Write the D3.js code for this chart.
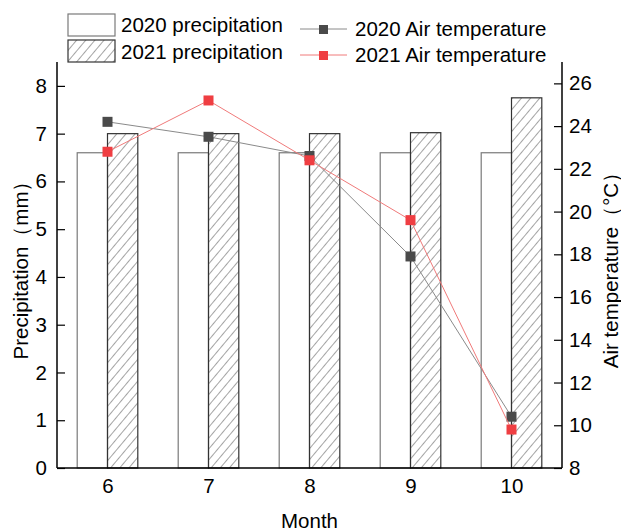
<!doctype html>
<html lang="en">
<head>
<meta charset="utf-8">
<title>Precipitation and air temperature</title>
<script src="https://cdnjs.cloudflare.com/ajax/libs/d3/7.8.5/d3.min.js"></script>
<style>
  body { margin: 0; background: #fff; }
  svg text { font-family: "Liberation Sans", Arial, sans-serif; fill: #000; }
</style>
</head>
<body>
<script>
    // data
    const months = [6, 7, 8, 9, 10];
    const precip2020 = [6.6, 6.6, 6.6, 6.6, 6.6];
    const precip2021 = [7.0, 7.0, 7.0, 7.02, 7.75];
    const temp2020 = [24.2, 23.5, 22.6, 17.9, 10.4];
    const temp2021 = [22.8, 25.2, 22.4, 19.6, 9.8];
    const leftTicks = [0, 1, 2, 3, 4, 5, 6, 7, 8];
    const rightTicks = [8, 10, 12, 14, 16, 18, 20, 22, 24, 26];

    const W = 621, H = 532;
    const plotL = 57, plotR = 562, plotT = 62, plotB = 468;
    const fs = 20.5;

    const svg = d3.select("body").append("svg")
        .attr("width", W).attr("height", H);

    // hatch pattern for 2021 bars
    const defs = svg.append("defs");
    defs.append("pattern")
        .attr("id", "hatch")
        .attr("patternUnits", "userSpaceOnUse")
        .attr("width", 7).attr("height", 7)
        .attr("patternTransform", "rotate(40)")
        .append("line")
        .attr("x1", 0.5).attr("y1", 0).attr("x2", 0.5).attr("y2", 7)
        .attr("stroke", "#666").attr("stroke-width", 0.6);

    const x = d3.scaleLinear().domain([5.5, 10.5]).range([plotL, plotR]);
    const yL = d3.scaleLinear().domain([0, 8.5]).range([plotB, plotT]);
    const yR = d3.scaleLinear().domain([8, 27]).range([plotB, plotT]);
    const barW = x(5.8) - x(5.5);

    // bars
    svg.append("g").selectAll("rect")
        .data(months)
        .join("rect")
        .attr("x", (d) => x(d) - barW)
        .attr("y", (d, i) => yL(precip2020[i]))
        .attr("width", barW)
        .attr("height", (d, i) => plotB - yL(precip2020[i]))
        .attr("fill", "#fff")
        .attr("stroke", "#7a7a7a")
        .attr("stroke-width", 1.2);

    svg.append("g").selectAll("rect")
        .data(months)
        .join("rect")
        .attr("x", (d) => x(d))
        .attr("y", (d, i) => yL(precip2021[i]))
        .attr("width", barW)
        .attr("height", (d, i) => plotB - yL(precip2021[i]))
        .attr("fill", "url(#hatch)")
        .attr("stroke", "#333")
        .attr("stroke-width", 1.2);

    // temperature lines
    const series = [
        { vals: temp2020, line: "#8a8a8a", mark: "#4a4a4a" },
        { vals: temp2021, line: "#f07a7a", mark: "#ef3e42" }
    ];
    series.forEach((s) => {
        const pts = months.map((m, i) => [x(m), yR(s.vals[i])]);
        svg.append("path")
            .attr("d", d3.line()(pts))
            .attr("fill", "none")
            .attr("stroke", s.line)
            .attr("stroke-width", 1);
        svg.append("g").selectAll("rect")
            .data(pts)
            .join("rect")
            .attr("x", (p) => p[0] - 5)
            .attr("y", (p) => p[1] - 5)
            .attr("width", 10).attr("height", 10)
            .attr("fill", s.mark);
    });

    // axes
    const axL = svg.append("g")
        .attr("transform", `translate(${plotL},0)`)
        .call(d3.axisLeft(yL).tickValues(leftTicks).tickSize(-8).tickPadding(10));
    const axR = svg.append("g")
        .attr("transform", `translate(${plotR},0)`)
        .call(d3.axisRight(yR).tickValues(rightTicks).tickSize(-8).tickPadding(7));
    const axB = svg.append("g")
        .attr("transform", `translate(0,${plotB})`)
        .call(d3.axisBottom(x).tickValues(months).tickSize(0).tickPadding(10)
            .tickFormat(d3.format("d")));

    [axL, axR, axB].forEach((a) => {
        a.select(".domain").attr("stroke", "#000").attr("stroke-width", 1.5);
        a.selectAll(".tick line").attr("stroke", "#000").attr("stroke-width", 1.2);
        a.selectAll("text").attr("font-size", fs)
            .attr("font-family", "Liberation Sans, Arial, sans-serif");
    });
    axL.select(".domain").attr("d", `M0,${plotB}V${plotT}`);
    axR.select(".domain").attr("d", `M0,${plotB}V${plotT}`);
    axB.select(".domain").attr("d", `M${plotL},0H${plotR}`);

    // axis titles
    svg.append("text")
        .attr("transform", `translate(28,${(plotT + plotB) / 2}) rotate(-90)`)
        .attr("text-anchor", "middle")
        .attr("font-size", fs)
        .text("Precipitation（mm）");
    svg.append("text")
        .attr("transform", `translate(618,${(plotT + plotB) / 2}) rotate(-90)`)
        .attr("text-anchor", "middle")
        .attr("font-size", fs)
        .text("Air temperature（°C）");
    svg.append("text")
        .attr("x", (plotL + plotR) / 2).attr("y", 528)
        .attr("text-anchor", "middle")
        .attr("font-size", fs)
        .text("Month");

    // legend
    const lg = svg.append("g");
    lg.append("rect").attr("x", 68).attr("y", 14).attr("width", 47).attr("height", 22)
        .attr("fill", "#fff").attr("stroke", "#7a7a7a").attr("stroke-width", 1.2);
    lg.append("rect").attr("x", 68).attr("y", 40).attr("width", 47).attr("height", 22)
        .attr("fill", "url(#hatch)").attr("stroke", "#333").attr("stroke-width", 1.2);
    lg.append("text").attr("x", 121).attr("y", 32).attr("font-size", fs).text("2020 precipitation");
    lg.append("text").attr("x", 121).attr("y", 59).attr("font-size", fs).text("2021 precipitation");

    series.forEach((s, i) => {
        const yy = 29 + i * 26;
        lg.append("line").attr("x1", 300).attr("x2", 347).attr("y1", yy).attr("y2", yy)
            .attr("stroke", s.line).attr("stroke-width", 1);
        lg.append("rect").attr("x", 319).attr("y", yy - 4).attr("width", 9).attr("height", 9)
            .attr("fill", s.mark);
        lg.append("text").attr("x", 355).attr("y", yy + 7).attr("font-size", fs)
            .text(i === 0 ? "2020 Air temperature" : "2021 Air temperature");
    });
</script>
</body>
</html>
